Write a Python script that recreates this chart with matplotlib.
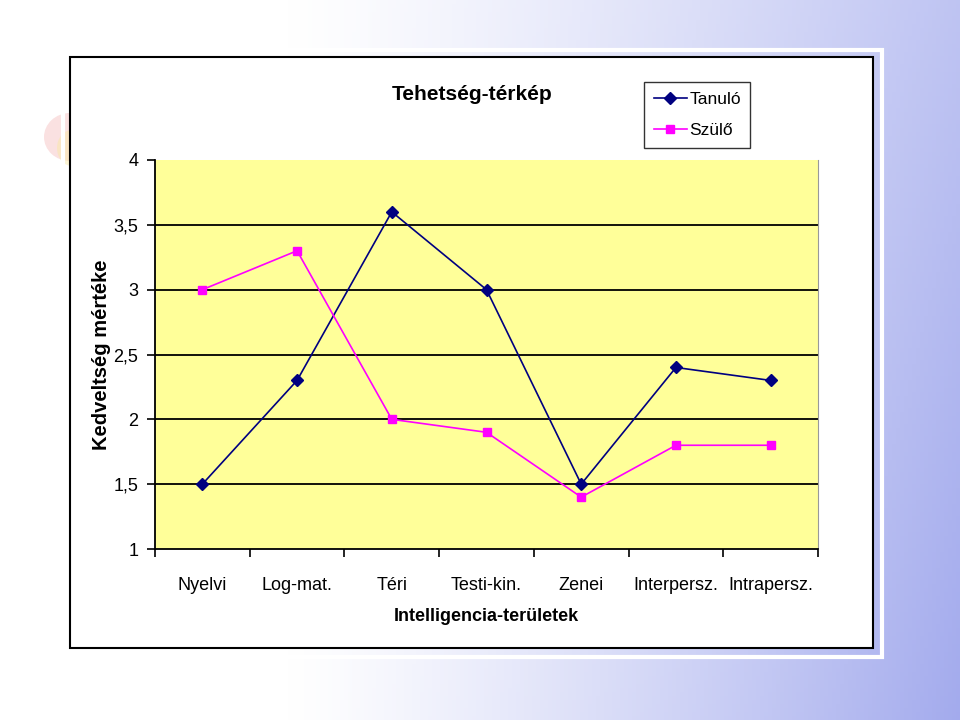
import numpy as np
import matplotlib.pyplot as plt
from matplotlib.patches import Rectangle, Ellipse

# Daten
teruletek = ["Nyelvi", "Log-mat.", "Téri", "Testi-kin.", "Zenei",
             "Interpersz.", "Intrapersz."]
tanulo = [1.5, 2.3, 3.6, 3.0, 1.5, 2.4, 2.3]
szulo = [3.0, 3.3, 2.0, 1.9, 1.4, 1.8, 1.8]
y_ticks = [1, 1.5, 2, 2.5, 3, 3.5, 4]
y_labels = ["1", "1,5", "2", "2,5", "3", "3,5", "4"]

plt.rcParams["font.family"] = ["Liberation Sans Narrow", "Liberation Sans", "DejaVu Sans"]

W, H = 960, 720
fig = plt.figure(figsize=(9.6, 7.2), dpi=100)

# Hintergrund: Verlauf von weiss (links) nach hellblau (rechts)
bg = fig.add_axes([0, 0, 1, 1], zorder=0)
xx, yy = np.meshgrid(np.linspace(0, 1, 240), np.linspace(0, 1, 180))
t = np.clip((xx - 0.3) / 0.7, 0, 1) ** 1.2 * (0.7 + 0.3 * yy)
white = np.array([1.0, 1.0, 1.0])
blue = np.array([0.64, 0.67, 0.93])
img = white[None, None, :] * (1 - t[..., None]) + blue[None, None, :] * t[..., None]
bg.imshow(img, extent=[0, W, H, 0], aspect="auto")
bg.set_xlim(0, W)
bg.set_ylim(H, 0)
bg.axis("off")

# blasser Fleck links
bg.add_patch(Ellipse((70, 137), 52, 48, color="#f4b4b4", alpha=0.4, lw=0))
bg.add_patch(Ellipse((72, 148), 30, 36, color="#f8e8a0", alpha=0.45, lw=0))

# Rahmen der Grafik
bg.add_patch(Rectangle((63, 50), 819, 607, facecolor="none", edgecolor="white", lw=3))
bg.add_patch(Rectangle((70, 57), 803, 591, facecolor="white", edgecolor="black", lw=1.5))

# Diagrammbereich
ax = fig.add_axes([155 / W, 1 - 549 / H, (818 - 155) / W, (549 - 160) / H], zorder=2)
ax.set_facecolor("#ffff99")
x = np.arange(len(teruletek))

ax.plot(x, tanulo, "-", color="#000080", marker="D", markersize=6, lw=1.2,
        label="Tanuló", zorder=4)
ax.plot(x, szulo, "-", color="#ff00ff", marker="s", markersize=6, lw=1.2,
        label="Szülő", zorder=4)

ax.set_xlim(-0.5, len(teruletek) - 0.5)
ax.set_ylim(1, 4)
ax.set_yticks(y_ticks)
ax.set_yticklabels(y_labels, fontsize=13)
for yv in y_ticks[1:-1]:
    ax.axhline(yv, color="black", lw=1.3, zorder=1)

# Kategorien mittig, Teilstriche an den Grenzen
ax.set_xticks(np.arange(len(teruletek) + 1) - 0.5)
ax.set_xticklabels([])
ax.set_xticks(x, minor=True)
ax.set_xticklabels(teruletek, minor=True, fontsize=13)
ax.tick_params(axis="x", which="major", length=6, width=1.2, direction="out")
ax.tick_params(axis="x", which="minor", length=0, pad=20)
ax.tick_params(axis="y", length=6, width=1.2, direction="out", pad=6)

ax.spines["top"].set_visible(False)
ax.spines["right"].set_color("#999999")
ax.spines["right"].set_linewidth(0.8)
ax.spines["left"].set_linewidth(1.3)
ax.spines["bottom"].set_linewidth(1.3)

ax.set_xlabel("Intelligencia-területek", fontsize=13, fontweight="bold", labelpad=10)
ax.set_ylabel("Kedveltség mértéke", fontsize=14.5, fontweight="bold",
              family=["Liberation Sans", "DejaVu Sans"])
ax.yaxis.set_label_coords((111 - 155) / (818 - 155), 0.5)

fig.text(472 / W, 1 - 95 / H, "Tehetség-térkép", fontsize=15, fontweight="bold",
         ha="center", va="center", zorder=3)

leg = fig.legend(loc="upper left", bbox_to_anchor=(644 / W, 1 - 82 / H),
                 fontsize=12.5, frameon=True, fancybox=False, edgecolor="black",
                 borderpad=0.55, handlelength=1.9, labelspacing=0.95,
                 handletextpad=0.15, borderaxespad=0)
leg.get_frame().set_linewidth(1.0)
leg.set_zorder(3)

fig.savefig("out.png", dpi=100)
